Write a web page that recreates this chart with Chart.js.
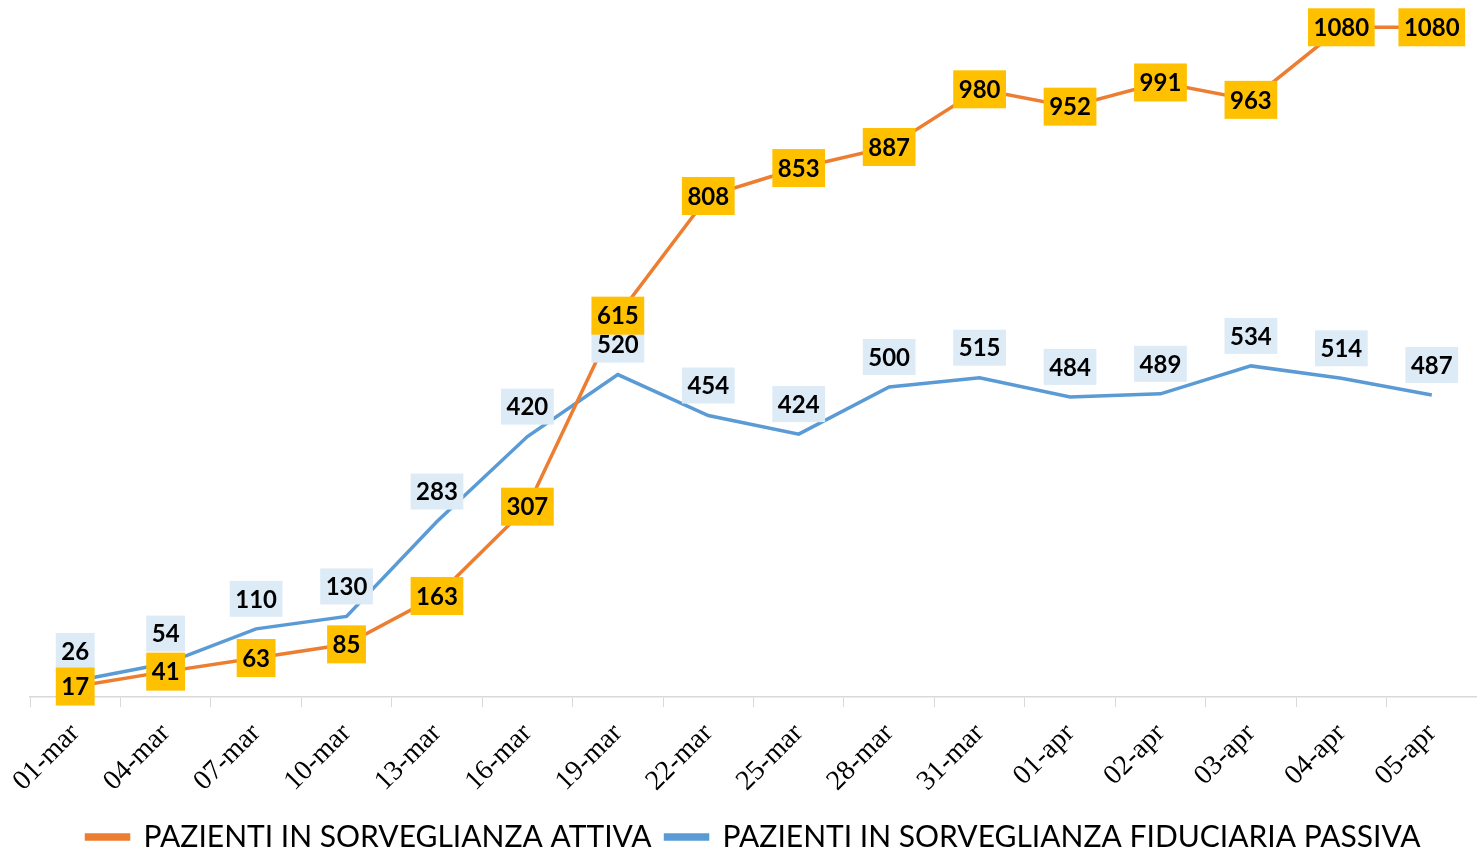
<!DOCTYPE html>
<html>
<head>
<meta charset="utf-8">
<script src="https://cdn.jsdelivr.net/npm/chart.js@4/dist/chart.umd.min.js"></script>
<style>
  html, body { margin: 0; padding: 0; background: #fff; }
  #wrap { width: 1477px; height: 853px; }
</style>
</head>
<body>
<div id="wrap"><canvas id="chart"></canvas></div>
<script>
// -----------------------
// Data
// -----------------------
const days = ['01-mar', '04-mar', '07-mar', '10-mar', '13-mar', '16-mar', '19-mar', '22-mar',
  '25-mar', '28-mar', '31-mar', '01-apr', '02-apr', '03-apr', '04-apr', '05-apr'];
const attiva = [17, 41, 63, 85, 163, 307, 615, 808, 853, 887, 980, 952, 991, 963, 1080, 1080];
const passiva = [26, 54, 110, 130, 283, 420, 520, 454, 424, 500, 515, 484, 489, 534, 514, 487];

const ORANGE = '#ED7D31';
const BLUE = '#5B9BD5';

// -----------------------
// Value labels with boxes
// -----------------------
const boxLabels = {
  id: 'boxLabels',
  afterDatasetsDraw(chart) {
    const ctx = chart.ctx;
    ctx.save();
    ctx.font = 'bold 24px Lato';
    ctx.textAlign = 'center';
    ctx.textBaseline = 'middle';
    // blue first, orange on top
    [1, 0].forEach(di => {
      const meta = chart.getDatasetMeta(di);
      const ds = chart.data.datasets[di];
      meta.data.forEach((pt, i) => {
        const txt = String(ds.data[i]);
        const w = ctx.measureText(txt).width + 11;
        const h = di === 0 ? 38 : 36;
        const cy = di === 0 ? pt.y : pt.y - 30;
        ctx.fillStyle = di === 0 ? '#FFC000' : '#DDEBF7';
        ctx.fillRect(pt.x - w / 2, cy - h / 2, w, h);
        ctx.fillStyle = '#000';
        ctx.fillText(txt, pt.x, cy + 1);
      });
    });
    ctx.restore();
  }
};

// -----------------------
// Chart
// -----------------------
new Chart(document.getElementById('chart'), {
  type: 'line',
  data: {
    labels: days,
    datasets: [
      { label: 'PAZIENTI IN SORVEGLIANZA ATTIVA', data: attiva, borderColor: ORANGE,
        backgroundColor: ORANGE, borderWidth: 3.5, pointRadius: 0, tension: 0 },
      { label: 'PAZIENTI IN SORVEGLIANZA FIDUCIARIA PASSIVA', data: passiva, borderColor: BLUE,
        backgroundColor: BLUE, borderWidth: 3.5, pointRadius: 0, tension: 0 }
    ]
  },
  options: {
    responsive: true,
    maintainAspectRatio: false,
    animation: false,
    layout: { padding: { top: 0, left: 30, right: 0, bottom: -9 } },
    plugins: {
      tooltip: { enabled: false },
      legend: {
        position: 'bottom',
        labels: {
          boxWidth: 42, boxHeight: 4, padding: 14,
          color: '#000',
          font: { family: 'Lato', size: 30 }
        }
      }
    },
    scales: {
      x: {
        offset: true,
        border: { color: '#D9D9D9', width: 1.5 },
        grid: { offset: true, drawOnChartArea: false, drawTicks: true, tickLength: 10, color: '#D9D9D9' },
        ticks: {
          minRotation: 45, maxRotation: 45, color: '#000', padding: 10,
          font: { family: 'Liberation Serif', size: 28 }
        }
      },
      y: { display: false, min: 0, max: 1124 }
    }
  },
  plugins: [boxLabels]
});
</script>
</body>
</html>
